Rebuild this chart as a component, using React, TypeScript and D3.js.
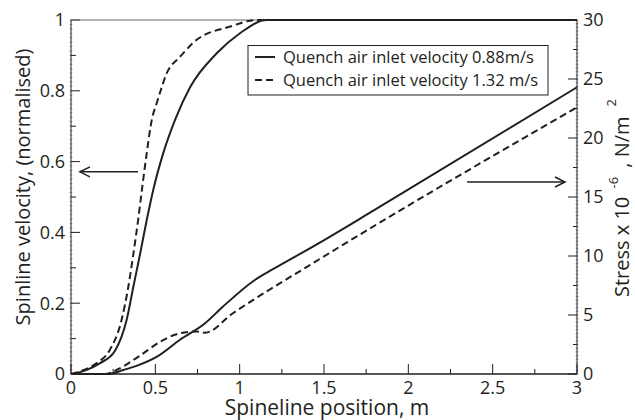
import React, { useEffect, useRef } from 'react';
import * as d3 from 'd3';

// spineline position, m
const posV088 = [0, 0.09, 0.17, 0.26, 0.33, 0.37, 0.41, 0.449, 0.49, 0.547, 0.617, 0.706, 0.864, 1.0, 1.16, 3];
const velV088 = [0, 0.011, 0.03, 0.065, 0.153, 0.247, 0.34, 0.435, 0.525, 0.624, 0.718, 0.81, 0.906, 0.962, 1, 1];
const posV132 = [0, 0.08, 0.15, 0.23, 0.3, 0.34, 0.37, 0.398, 0.423, 0.449, 0.479, 0.508, 0.538, 0.567, 0.595, 0.627, 0.745, 0.94, 1.1, 3];
const velV132 = [0, 0.012, 0.03, 0.068, 0.153, 0.247, 0.34, 0.435, 0.53, 0.624, 0.718, 0.765, 0.81, 0.849, 0.872, 0.887, 0.944, 0.981, 1, 1];

// stress x 10^-6, N/m2
const posS088 = [0, 0.22, 0.31, 0.4, 0.51, 0.646, 0.795, 0.9, 1.09, 1.2, 1.447, 1.8, 3];
const strS088 = [0, 0, 0.34, 0.75, 1.47, 2.9, 4.3, 5.7, 7.97, 8.9, 10.9, 13.9, 24.3];
const posS132 = [0, 0.2, 0.27, 0.4, 0.53, 0.646, 0.745, 0.795, 0.96, 1.447, 3];
const strS132 = [0, 0, 0.34, 1.47, 2.74, 3.45, 3.6, 3.5, 5.15, 9.5, 22.6];

const xTicks = [0, 0.5, 1, 1.5, 2, 2.5, 3];
const yLeftTicks = [0, 0.2, 0.4, 0.6, 0.8, 1];
const yRightTicks = [0, 5, 10, 15, 20, 25, 30];
const legendLabels = ['Quench air inlet velocity 0.88m/s', 'Quench air inlet velocity 1.32 m/s'];

const ink = '#231f20';
const font = '"Open Sans", sans-serif';

const App = () => {
    const ref = useRef(null);

    useEffect(() => {
        const svg = d3.select(ref.current);
        svg.selectAll('*').remove();

        const left = 71, right = 577, top = 20, bottom = 374;
        const x = d3.scaleLinear().domain([0, 3]).range([left, right]);
        const yL = d3.scaleLinear().domain([0, 1]).range([bottom, top]);
        const yR = d3.scaleLinear().domain([0, 30]).range([bottom, top]);

        svg.append('rect').attr('width', 635).attr('height', 420).attr('fill', 'white');

        // tiny ticks on both y axes
        const tinyL = d3.range(0, 1.0001, 0.0125);
        svg.selectAll('.tinyL').data(tinyL).enter().append('line')
            .attr('x1', left - 1.5).attr('x2', left + 1.5)
            .attr('y1', d => yL(d)).attr('y2', d => yL(d))
            .attr('stroke', '#888').attr('stroke-width', 0.7);
        const tinyR = d3.range(0, 30.001, 0.3125);
        svg.selectAll('.tinyR').data(tinyR).enter().append('line')
            .attr('x1', right - 1.5).attr('x2', right + 1.5)
            .attr('y1', d => yR(d)).attr('y2', d => yR(d))
            .attr('stroke', '#888').attr('stroke-width', 0.7);

        // major / mid ticks
        d3.range(0, 1.0001, 0.1).forEach((d, i) => {
            svg.append('line').attr('x1', left).attr('x2', left + (i % 2 === 0 ? 9 : 5))
                .attr('y1', yL(d)).attr('y2', yL(d)).attr('stroke', ink).attr('stroke-width', 1);
        });
        d3.range(0, 30.001, 2.5).forEach((d, i) => {
            svg.append('line').attr('x1', right).attr('x2', right - (i % 2 === 0 ? 9 : 4))
                .attr('y1', yR(d)).attr('y2', yR(d)).attr('stroke', ink).attr('stroke-width', 1);
        });
        d3.range(0, 3.0001, 0.25).forEach((d, i) => {
            svg.append('line').attr('x1', x(d)).attr('x2', x(d))
                .attr('y1', bottom).attr('y2', bottom - (i % 2 === 0 ? 10 : 5))
                .attr('stroke', ink).attr('stroke-width', 1);
        });

        // frame
        svg.append('line').attr('x1', left).attr('x2', right).attr('y1', top).attr('y2', top)
            .attr('stroke', '#666').attr('stroke-width', 1);
        svg.append('line').attr('x1', left).attr('x2', right).attr('y1', bottom).attr('y2', bottom)
            .attr('stroke', ink).attr('stroke-width', 1.5);
        svg.append('line').attr('x1', left).attr('x2', left).attr('y1', top).attr('y2', bottom)
            .attr('stroke', ink).attr('stroke-width', 1);
        svg.append('line').attr('x1', right).attr('x2', right).attr('y1', top).attr('y2', bottom)
            .attr('stroke', ink).attr('stroke-width', 1);

        // tick labels
        svg.selectAll('.xl').data(xTicks).enter().append('text')
            .attr('x', d => x(d)).attr('y', 394)
            .attr('text-anchor', 'middle').attr('font-family', font).attr('font-size', 18).attr('fill', ink)
            .text(d => d);
        svg.selectAll('.yl').data(yLeftTicks).enter().append('text')
            .attr('x', 65).attr('y', d => yL(d)).attr('dy', '0.35em')
            .attr('text-anchor', 'end').attr('font-family', font).attr('font-size', 18).attr('fill', ink)
            .text(d => d);
        svg.selectAll('.yr').data(yRightTicks).enter().append('text')
            .attr('x', 583).attr('y', d => yR(d)).attr('dy', '0.35em')
            .attr('text-anchor', 'start').attr('font-family', font).attr('font-size', 18).attr('fill', ink)
            .text(d => d);

        // axis titles
        svg.append('text').attr('x', 327).attr('y', 415).attr('text-anchor', 'middle')
            .attr('font-family', font).attr('font-size', 21).attr('fill', ink)
            .text('Spineline position, m');
        svg.append('text').attr('transform', 'translate(30,187) rotate(-90)').attr('text-anchor', 'middle')
            .attr('font-family', font).attr('font-size', 20).attr('fill', ink)
            .text('Spinline velocity, (normalised)');
        const rt = svg.append('text').attr('transform', 'translate(629,297) rotate(-90)')
            .attr('text-anchor', 'start').attr('font-family', font).attr('font-size', 20).attr('fill', ink);
        rt.append('tspan').text('Stress x 10 ');
        rt.append('tspan').attr('dy', -11).attr('dx', 3).attr('font-size', 13).text('-6');
        rt.append('tspan').attr('dy', 11).attr('dx', 4).text(' , N/m');
        rt.append('tspan').attr('dy', -13).attr('dx', 10).attr('font-size', 13).text('2');

        // curves
        const lineV = d3.line().x(d => x(d[0])).y(d => yL(d[1])).curve(d3.curveMonotoneX);
        const lineS = d3.line().x(d => x(d[0])).y(d => yR(d[1])).curve(d3.curveMonotoneX);
        const series = [
            { d: lineV(posV088.map((p, i) => [p, velV088[i]])), dash: null },
            { d: lineV(posV132.map((p, i) => [p, velV132[i]])), dash: '7,4' },
            { d: lineS(posS088.map((p, i) => [p, strS088[i]])), dash: null },
            { d: lineS(posS132.map((p, i) => [p, strS132[i]])), dash: '7,4' },
        ];
        series.forEach(s => {
            svg.append('path').attr('d', s.d).attr('fill', 'none')
                .attr('stroke', ink).attr('stroke-width', 2)
                .attr('stroke-dasharray', s.dash);
        });

        // arrows
        const arrow = (x0, x1, yy) => {
            svg.append('line').attr('x1', x0).attr('x2', x1).attr('y1', yy).attr('y2', yy)
                .attr('stroke', ink).attr('stroke-width', 1.5);
            const dir = x1 > x0 ? -1 : 1;
            svg.append('path')
                .attr('d', `M${x1 + dir * 10},${yy - 5}L${x1},${yy}L${x1 + dir * 10},${yy + 5}`)
                .attr('fill', 'none').attr('stroke', ink).attr('stroke-width', 1.5);
        };
        arrow(x(0.397), x(0.053), yL(0.571));
        arrow(x(2.348), x(2.929), yR(16.27));

        // legend
        svg.append('rect').attr('x', 248).attr('y', 45.5).attr('width', 300).attr('height', 49.5)
            .attr('fill', 'white').attr('stroke', ink).attr('stroke-width', 1);
        legendLabels.forEach((lab, i) => {
            const ly = 57 + i * 23;
            svg.append('line').attr('x1', 255).attr('x2', 275).attr('y1', ly).attr('y2', ly)
                .attr('stroke', ink).attr('stroke-width', 2)
                .attr('stroke-dasharray', i === 1 ? '7,4' : null);
            svg.append('text').attr('x', 283).attr('y', ly).attr('dy', '0.35em')
                .attr('font-family', font).attr('font-size', 16.5).attr('fill', ink)
                .text(lab);
        });
    }, []);

    return (
        <svg ref={ref} width={635} height={420} style={{ position: 'absolute', left: 0, top: 0 }}></svg>
    );
};

export default App;
